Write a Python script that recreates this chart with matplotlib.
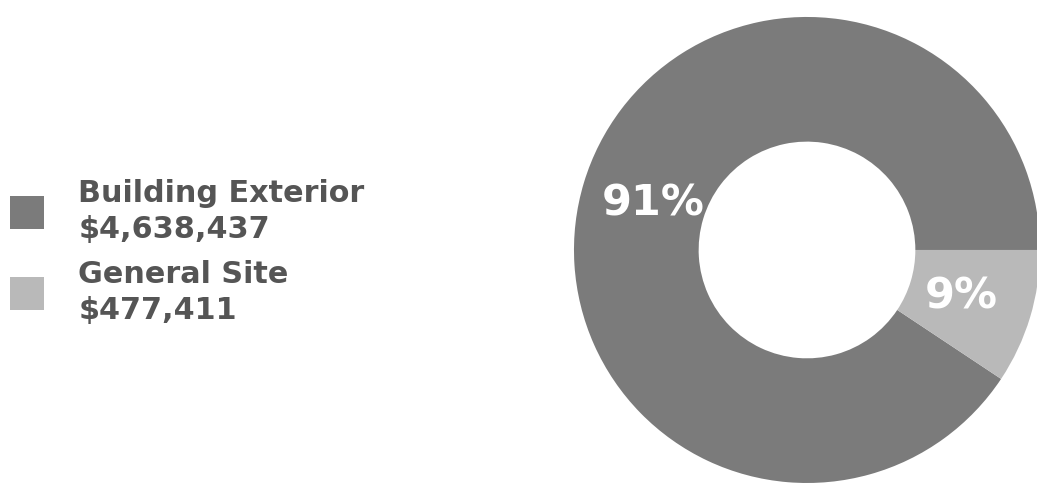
import matplotlib.pyplot as plt

categories = ['Building Exterior', 'General Site']
values = [4638437, 477411]
colors = ['#7b7b7b', '#b9b9b9']

fig = plt.figure(figsize=(10.37, 4.87), dpi=100)
ax = fig.add_axes([0.5535, 0.0082, 0.4494, 0.957])

wedges, texts, autotexts = ax.pie(
    values, colors=colors, startangle=0, counterclock=True,
    autopct=lambda p: '%d%%' % round(p), pctdistance=0.69,
    wedgeprops=dict(width=0.535, edgecolor='none'),
    textprops=dict(color='white', fontsize=31, fontweight='bold'))
ax.set_xlim(-1, 1)
ax.set_ylim(-1, 1)
ax.set_aspect('equal')

labels = ['%s\n$%s' % (c, format(v, ',')) for c, v in zip(categories, values)]
leg = fig.legend(wedges, labels, loc='center left', bbox_to_anchor=(0.01, 0.483),
                 frameon=False, prop=dict(weight='bold', size=21.8),
                 labelcolor='#555555', handlelength=1.1, handleheight=1.3,
                 handletextpad=1.15, labelspacing=0.53, borderpad=0, borderaxespad=0)
for t in leg.get_texts():
    t.set_linespacing(1.3)

fig.savefig('out.png', dpi=100)
